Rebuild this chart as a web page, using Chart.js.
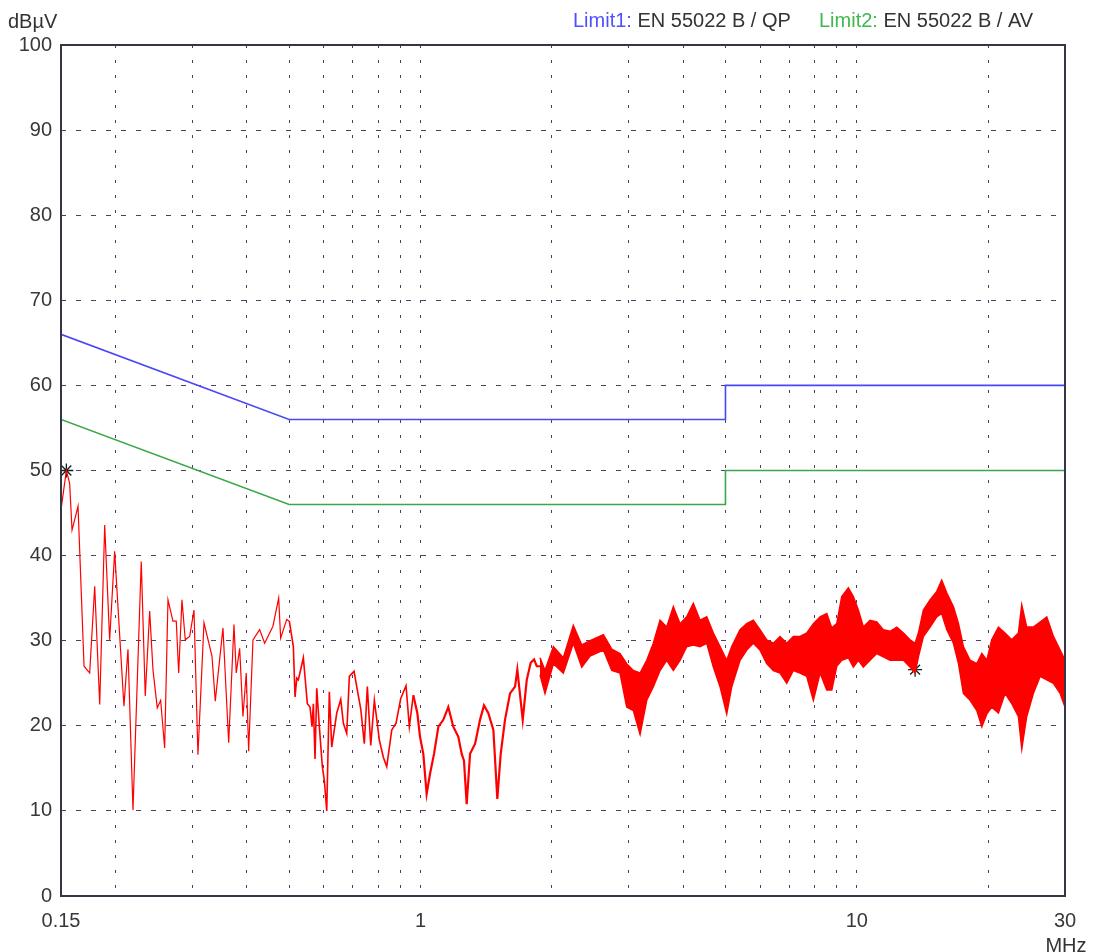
<!DOCTYPE html>
<html>
<head>
<meta charset="utf-8">
<script src="https://cdn.jsdelivr.net/npm/chart.js@4/dist/chart.umd.min.js"></script>
<style>
  html, body { margin: 0; padding: 0; background: #ffffff; }
  #wrap { width: 1093px; height: 952px; position: relative; }
</style>
</head>
<body>
<div id="wrap"><canvas id="emiChart"></canvas></div>
<script>
// Grenzwerte (EN 55022 Klasse B)
const limitFreqs = [0.15, 0.5, 5, 5, 30];
const qpLimit = [66, 56, 56, 60, 60];
const avLimit = [56, 46, 46, 50, 50];

// Messkurve, schmaler Teil (MHz / dBµV)
const traceFreqs = [
  0.1500, 0.1543, 0.1570, 0.1590, 0.1641, 0.1694, 0.1745, 0.1792, 0.1840, 0.1889,
  0.1939, 0.1991, 0.2026, 0.2091, 0.2136, 0.2193, 0.2291, 0.2340, 0.2395, 0.2437,
  0.2493, 0.2538, 0.2592, 0.2638, 0.2708, 0.2756, 0.2791, 0.2840, 0.2890, 0.2958,
  0.3026, 0.3090, 0.3190, 0.3327, 0.3386, 0.3526, 0.3634, 0.3737, 0.3782, 0.3851,
  0.3918, 0.3987, 0.4038, 0.4131, 0.4279, 0.4394, 0.4590, 0.4731, 0.4781, 0.4937,
  0.5005, 0.5112, 0.5158, 0.5205, 0.5249, 0.5389, 0.5504, 0.5583, 0.5642, 0.5681,
  0.5732, 0.5784, 0.5864, 0.5957, 0.6020, 0.6097, 0.6181, 0.6260, 0.6428, 0.6565,
  0.6656, 0.6776, 0.6870, 0.7043, 0.7166, 0.7295, 0.7435, 0.7554, 0.7691, 0.7839,
  0.8050, 0.8219, 0.8368, 0.8592, 0.8789, 0.9010, 0.9265, 0.9428, 0.9628, 0.9834,
  0.9975, 1.015, 1.033, 1.052, 1.074, 1.099, 1.128, 1.158, 1.189, 1.221,
  1.243, 1.258, 1.276, 1.299, 1.334, 1.369, 1.398, 1.430, 1.469, 1.500,
  1.527, 1.562, 1.604, 1.647, 1.667, 1.715, 1.752, 1.789, 1.821, 1.847, 1.879
];
const traceLevels = [
  45.4, 50.0, 48.5, 43.0, 45.8, 27.0, 26.2, 36.4, 22.5, 43.6,
  30.1, 40.5, 34.0, 22.3, 29.0, 10.1, 39.3, 23.5, 33.5, 26.6,
  22.1, 23.0, 17.4, 34.8, 32.3, 32.3, 26.2, 34.8, 30.1, 30.5,
  33.6, 16.6, 32.1, 28.2, 22.9, 31.5, 18.0, 31.9, 26.2, 29.1,
  21.1, 26.2, 17.0, 30.1, 31.3, 29.7, 31.7, 35.0, 30.3, 32.5,
  32.3, 29.3, 23.4, 25.6, 25.4, 28.0, 22.6, 22.2, 19.9, 22.6,
  16.1, 24.4, 19.9, 15.2, 13.6, 10.0, 24.0, 17.5, 21.5, 23.1,
  20.3, 19.1, 25.8, 26.4, 24.2, 22.0, 17.9, 24.6, 17.7, 23.0,
  18.3, 16.3, 15.2, 19.5, 20.3, 23.2, 24.7, 19.9, 23.6, 21.5,
  18.7, 16.7, 12.0, 14.4, 16.7, 19.9, 20.7, 22.2, 19.9, 18.7,
  16.7, 15.9, 10.8, 16.7, 17.9, 20.7, 22.4, 21.5, 19.5, 11.4,
  16.7, 20.7, 23.8, 24.6, 26.6, 20.7, 25.4, 27.4, 27.8, 27.0, 27.0
];

// Messkurve, dichter Teil: obere und untere Hüllkurve
const bandFreqs = [
  1.879, 1.929, 2.016, 2.125, 2.240, 2.342, 2.447, 2.625, 2.744, 2.866,
  2.969, 3.075, 3.186, 3.300, 3.417, 3.540, 3.667, 3.797, 3.934, 4.075,
  4.220, 4.372, 4.529, 4.690, 4.859, 5.033, 5.168, 5.399, 5.593, 5.791,
  6.000, 6.216, 6.436, 6.669, 6.909, 7.154, 7.412, 7.679, 7.951, 8.237,
  8.534, 8.762, 8.995, 9.236, 9.563, 9.818, 10.08, 10.35, 10.72, 11.11,
  11.50, 11.92, 12.35, 12.79, 13.24, 13.60, 13.84, 14.21, 14.72, 15.25,
  15.65, 16.08, 16.65, 17.10, 17.55, 18.18, 18.84, 19.34, 19.86, 20.38,
  21.11, 21.86, 22.65, 23.46, 23.88, 24.51, 25.38, 26.30, 27.25, 28.22,
  29.24, 30.0
];
const bandMax = [
  28.0, 26.5, 29.3, 28.0, 31.8, 29.5, 30.0, 30.7, 29.0, 28.5,
  27.3, 26.5, 26.2, 27.7, 29.7, 32.4, 31.6, 34.0, 32.0, 32.8,
  34.4, 32.4, 32.8, 30.9, 29.3, 27.7, 29.3, 31.3, 32.0, 32.4,
  31.3, 30.1, 29.7, 30.5, 29.7, 30.5, 30.5, 30.9, 32.0, 32.8,
  33.2, 31.5, 32.0, 35.2, 36.2, 35.2, 33.6, 31.6, 32.4, 32.2,
  31.3, 31.1, 31.6, 30.9, 30.1, 29.7, 30.9, 33.6, 34.8, 35.8,
  37.1, 35.6, 34.0, 32.0, 29.3, 27.7, 27.3, 28.5, 27.7, 30.1,
  31.6, 30.9, 30.1, 30.9, 34.2, 31.6, 31.6, 32.2, 32.8, 30.5,
  28.9, 27.7
];
const bandMin = [
  26.0, 23.8, 27.3, 26.2, 29.7, 26.9, 28.2, 28.9, 26.5, 26.2,
  22.2, 21.8, 19.0, 23.0, 24.6, 26.5, 27.7, 26.5, 27.7, 29.3,
  29.5, 29.3, 29.7, 26.9, 24.6, 21.4, 24.6, 27.7, 28.9, 29.7,
  28.9, 27.3, 26.5, 26.2, 25.0, 26.5, 26.2, 25.8, 23.0, 26.2,
  24.2, 24.2, 27.0, 27.7, 28.0, 26.9, 27.7, 26.9, 27.7, 28.5,
  28.1, 27.7, 27.7, 27.7, 26.9, 26.2, 28.1, 30.5, 31.6, 32.8,
  33.2, 31.3, 29.7, 27.3, 23.8, 23.0, 21.8, 19.9, 21.4, 22.2,
  21.5, 23.8, 22.6, 21.1, 17.3, 21.1, 23.8, 25.8, 25.4, 25.0,
  23.8, 22.2
];

// Markierte Spitzen
const markerFreqs = [0.1543, 13.6];
const markerLevels = [50.0, 26.6];

// Achsen
const xGridTicks = [0.15, 0.2, 0.3, 0.4, 0.5, 0.6, 0.7, 0.8, 0.9, 1,
  2, 3, 4, 5, 6, 7, 8, 9, 10, 20, 30];
const xLabelTicks = [0.15, 1, 10, 30];
const yTicks = [0, 10, 20, 30, 40, 50, 60, 70, 80, 90, 100];

const FONT = '"Liberation Sans", Arial, sans-serif';

function toPoints(xs, ys) {
  return xs.map((x, i) => ({ x: x, y: ys[i] }));
}

const textPlugin = {
  id: "emiTexts",
  afterDraw(chart) {
    const ctx = chart.ctx;
    const area = chart.chartArea;
    ctx.save();

    // Rahmen
    ctx.strokeStyle = "#353545";
    ctx.lineWidth = 2;
    ctx.strokeRect(area.left, area.top, area.right - area.left, area.bottom - area.top);

    ctx.font = "20px " + FONT;
    ctx.textBaseline = "alphabetic";
    ctx.textAlign = "left";

    ctx.fillStyle = "#333333";
    ctx.fillText("dBµV", 8, 28);

    // Legende oben rechts
    let x = 573;
    ctx.fillStyle = "#5050ff";
    ctx.fillText("Limit1:", x, 27);
    x += ctx.measureText("Limit1:").width;
    ctx.fillStyle = "#333333";
    ctx.fillText(" EN 55022 B / QP", x, 27);

    x = 819;
    ctx.fillStyle = "#40b850";
    ctx.fillText("Limit2:", x, 27);
    x += ctx.measureText("Limit2:").width;
    ctx.fillStyle = "#333333";
    ctx.fillText(" EN 55022 B / AV", x, 27);

    ctx.textAlign = "center";
    ctx.textBaseline = "top";
    ctx.fillText("MHz", 1066, 936);

    ctx.restore();
  }
};

function renderEmiChart() {
  const canvas = document.getElementById("emiChart");

  new Chart(canvas, {
    type: "line",
    data: {
      datasets: [
        {
          label: "Messung",
          data: toPoints(traceFreqs, traceLevels),
          borderColor: "#ff0000",
          borderWidth: 1.2,
          pointRadius: 0,
          tension: 0,
          fill: false,
          segment: {
            borderWidth: (c) => (c.p0.parsed.x >= 0.95 ? 2.2 : (c.p0.parsed.x >= 0.5 ? 1.6 : 1.2))
          }
        },
        {
          label: "Messung min",
          data: toPoints(bandFreqs, bandMin),
          borderColor: "#ff0000",
          borderWidth: 1.5,
          pointRadius: 0,
          tension: 0,
          fill: false
        },
        {
          label: "Messung max",
          data: toPoints(bandFreqs, bandMax),
          borderColor: "#ff0000",
          backgroundColor: "#ff0000",
          borderWidth: 1.5,
          pointRadius: 0,
          tension: 0,
          fill: 1
        },
        {
          label: "Limit1",
          data: toPoints(limitFreqs, qpLimit),
          borderColor: "#4848f8",
          borderWidth: 1.6,
          pointRadius: 0,
          tension: 0,
          fill: false
        },
        {
          label: "Limit2",
          data: toPoints(limitFreqs, avLimit),
          borderColor: "#3aa84a",
          borderWidth: 1.6,
          pointRadius: 0,
          tension: 0,
          fill: false
        },
        {
          label: "Marker",
          data: toPoints(markerFreqs, markerLevels),
          showLine: false,
          pointStyle: "star",
          pointRadius: 7,
          pointBorderColor: "#102020",
          pointBorderWidth: 1.3,
          pointBackgroundColor: "#102020"
        }
      ]
    },
    options: {
      responsive: true,
      maintainAspectRatio: false,
      animation: false,
      layout: {
        padding: { top: 45, right: 28, left: 0, bottom: 0 }
      },
      plugins: {
        legend: { display: false },
        tooltip: { enabled: false }
      },
      scales: {
        x: {
          type: "logarithmic",
          min: 0.15,
          max: 30,
          afterBuildTicks: (scale) => {
            scale.ticks = xGridTicks.map((v) => ({ value: v }));
          },
          afterFit: (scale) => {
            scale.height = 56;
          },
          ticks: {
            autoSkip: false,
            maxRotation: 0,
            padding: 13,
            color: "#383838",
            font: { family: FONT, size: 20 },
            callback: (value) => (xLabelTicks.includes(value) ? String(value) : "")
          },
          grid: {
            color: "#4e3e62",
            lineWidth: 1,
            drawTicks: false
          },
          border: {
            display: false,
            dash: [3, 12]
          }
        },
        y: {
          type: "linear",
          min: 0,
          max: 100,
          afterBuildTicks: (scale) => {
            scale.ticks = yTicks.map((v) => ({ value: v }));
          },
          afterFit: (scale) => {
            scale.width = 61;
          },
          ticks: {
            padding: 9,
            color: "#383838",
            font: { family: FONT, size: 20 }
          },
          grid: {
            color: "#4e3e62",
            lineWidth: 1,
            drawTicks: false
          },
          border: {
            display: false,
            dash: [5, 10]
          }
        }
      }
    },
    plugins: [textPlugin]
  });
}

document.addEventListener("DOMContentLoaded", renderEmiChart);
</script>
</body>
</html>
